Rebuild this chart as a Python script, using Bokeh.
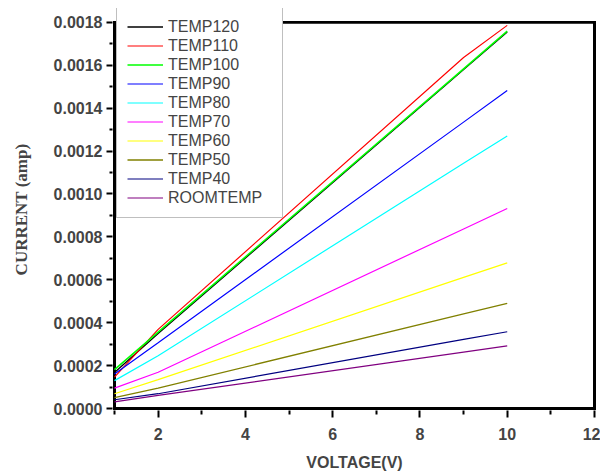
from bokeh.plotting import figure
from bokeh.models import (Range1d, Legend, LegendItem, PrintfTickFormatter,
                          FixedTicker)
from bokeh.embed import file_html
from bokeh.resources import INLINE

# Data (voltage in V, current in amp)
voltage = [1, 2, 9, 10]
temp120 = [0.000168, 0.000350, 0.001580, 0.001755]
temp110 = [0.000146, 0.000369, 0.001636, 0.001786]
temp100 = [0.000181, 0.000356, 0.001583, 0.001759]
temp90 = [0.000161, 0.000307, 0.001335, 0.001482]
temp80 = [0.000130, 0.000246, 0.001143, 0.001270]
temp70 = [0.000095, 0.000169, 0.000837, 0.000932]
temp60 = [0.000069, 0.000135, 0.000611, 0.000679]
temp50 = [0.000051, 0.000095, 0.000441, 0.000490]
temp40 = [0.000041, 0.000069, 0.000322, 0.000358]
roomtemp = [0.000031, 0.000061, 0.000263, 0.000292]

names = ["TEMP120", "TEMP110", "TEMP100", "TEMP90", "TEMP80",
         "TEMP70", "TEMP60", "TEMP50", "TEMP40", "ROOMTEMP"]
series = [temp120, temp110, temp100, temp90, temp80,
          temp70, temp60, temp50, temp40, roomtemp]

# axis ticks
y_ticks = [0.0, 0.0002, 0.0004, 0.0006, 0.0008, 0.0010, 0.0012, 0.0014, 0.0016, 0.0018]
y_minor_ticks = [0.0001, 0.0003, 0.0005, 0.0007, 0.0009, 0.0011, 0.0013, 0.0015, 0.0017]
x_ticks = [2, 4, 6, 8, 10, 12]
x_minor_ticks = [1, 3, 5, 7, 9, 11]
x_min, x_max = 1, 12
y_min, y_max = 0.0, 0.0018

colors = ["#000000", "#FF0000", "#00FF00", "#0000FF", "#00FFFF",
          "#FF00FF", "#FFFF00", "#808000", "#000080", "#800080"]
widths = [1.3, 1.2, 1.6, 1.2, 1.2, 1.2, 1.2, 1.4, 1.2, 1.2]

# plot frame is slightly larger than the axes box (2 px on each side, 14 px on top
# so that the legend can stick out above the box)
box_w, box_h = 480, 390
dx = (x_max - x_min) / box_w
dy = (y_max - y_min) / box_h
x_lo, x_hi = x_min - 2 * dx, x_max + 2 * dx
y_lo, y_hi = y_min - 2 * dy, y_max + 14 * dy

p = figure(width=600, height=473, output_backend="svg", toolbar_location=None,
           x_range=Range1d(x_lo, x_hi), y_range=Range1d(y_lo, y_hi),
           min_border_left=112, min_border_right=4, min_border_top=8, min_border_bottom=59)
p.background_fill_color = "white"
p.border_fill_color = "white"
p.grid.visible = False
p.outline_line_color = None

# axes box drawn as four filled strips (1.5 px either side of each edge)
h = 1.5
p.quad(left=[x_min - h * dx, x_max - h * dx, x_min - h * dx, x_min - h * dx],
       right=[x_min + h * dx, x_max + h * dx, x_max + h * dx, x_max + h * dx],
       bottom=[y_min - h * dy, y_min - h * dy, y_min - h * dy, y_max - h * dy],
       top=[y_max + h * dy, y_max + h * dy, y_min + h * dy, y_max + h * dy],
       fill_color="black", fill_alpha=1.0, line_color=None)

items = []
for name, ys, c, w in zip(names, series, colors, widths):
    r = p.line(voltage, ys, line_color=c, line_width=w)
    items.append(LegendItem(label=name, renderers=[r]))

tick_font = "Liberation Sans"

xa = p.xaxis[0]
xa.ticker = FixedTicker(ticks=x_ticks, minor_ticks=x_minor_ticks)
xa.axis_label = "VOLTAGE(V)"
xa.axis_label_text_font = tick_font
xa.axis_label_text_font_style = "bold"
xa.axis_label_text_font_size = "16px"
xa.axis_label_standoff = 11
xa.major_label_text_font = tick_font
xa.major_label_text_font_style = "bold"
xa.major_label_text_font_size = "16px"
xa.major_label_standoff = 10
xa.major_tick_in = 0
xa.major_tick_out = 7
xa.minor_tick_in = 0
xa.minor_tick_out = 4
xa.major_tick_line_width = 2
xa.minor_tick_line_width = 2
xa.axis_line_color = None

ya = p.yaxis[0]
ya.ticker = FixedTicker(ticks=y_ticks, minor_ticks=y_minor_ticks)
ya.axis_label = "CURRENT (amp)"
ya.axis_label_text_font = "Liberation Serif"
ya.axis_label_text_font_style = "bold"
ya.axis_label_text_font_size = "17px"
ya.axis_label_standoff = 20
ya.major_label_text_font = tick_font
ya.major_label_text_font_style = "bold"
ya.major_label_text_font_size = "16px"
ya.major_label_standoff = 4
ya.formatter = PrintfTickFormatter(format="%.4f")
ya.major_tick_in = 0
ya.major_tick_out = 6
ya.minor_tick_in = 0
ya.minor_tick_out = 3
ya.major_tick_line_width = 2
ya.minor_tick_line_width = 2
ya.axis_line_color = None

legend = Legend(items=items, location=(4, 192))
legend.margin = 0
legend.padding = 10
legend.spacing = 0
legend.label_height = 19
legend.glyph_height = 19
legend.glyph_width = 36
legend.label_standoff = 5
legend.label_width = 104
legend.label_text_font = tick_font
legend.label_text_font_size = "16px"
legend.border_line_color = "#808080"
legend.border_line_width = 1.5
legend.background_fill_color = "white"
legend.background_fill_alpha = 1.0
p.add_layout(legend, "center")

open("out.html", "w").write(file_html(p, INLINE))
